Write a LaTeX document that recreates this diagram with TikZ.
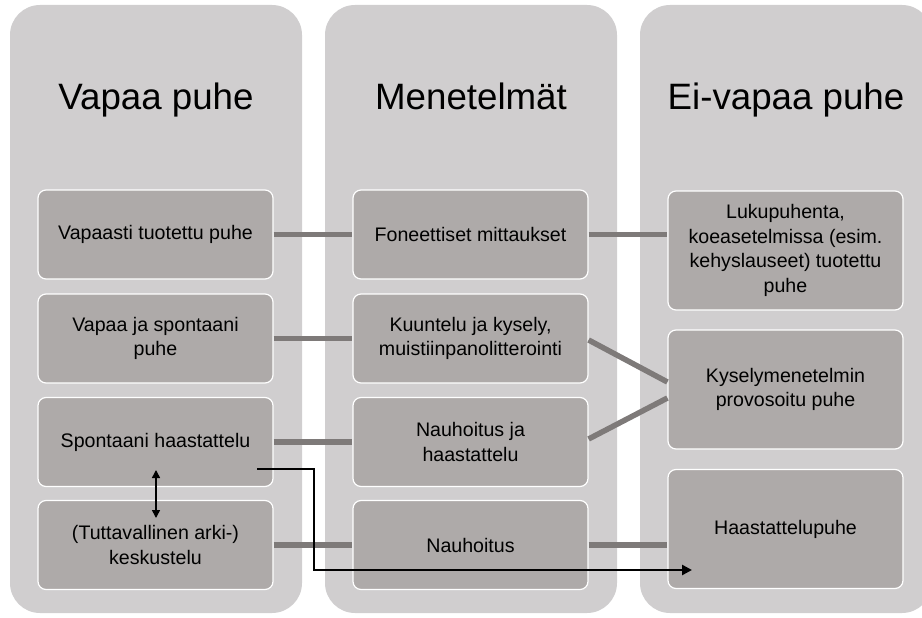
\documentclass[tikz,border=0pt]{standalone}
\usepackage{fontspec}
\setmainfont{Liberation Sans}
\usetikzlibrary{arrows.meta}
\definecolor{panelgray}{HTML}{D0CECF}
\definecolor{boxgray}{HTML}{AEAAA9}
\definecolor{linkgray}{HTML}{7E7A79}
\tikzset{
  panel/.style={fill=panelgray, rounded corners=30pt},
  title/.style={font=\fontsize{36.7}{44}\selectfont, anchor=base},
  bx/.style={draw=white, line width=1.2pt, fill=boxgray, rounded corners=8pt,
    minimum width=235pt, minimum height=89pt, align=center, inner sep=2pt,
    font=\fontsize{19.6}{24.5}\selectfont},
  tallbx/.style={bx, minimum height=119pt},
  link/.style={draw=linkgray, line width=5.5pt},
  flow/.style={draw=black, line width=2.6pt, -{Triangle[length=10pt,width=10pt]}},
  twoway/.style={draw=black, line width=1.5pt, {Triangle[length=8pt,width=8pt]}-{Triangle[length=8pt,width=8pt]}}
}
\begin{document}
\begin{tikzpicture}[x=1pt,y=-1pt]
\useasboundingbox (0,0) rectangle (922,618);
\clip (0,0) rectangle (922,618);
% panels
\fill[panel] (10,5) rectangle (302,613);
\fill[panel] (325,5) rectangle (617,613);
\fill[panel] (640,5) rectangle (932,613);
% titles
\node[title] (t1) at (156,110) {Vapaa puhe};
\node[title] (t2) at (471,110) {Menetelmät};
\node[title] (t3) at (786,110) {Ei-vapaa puhe};
% column 1
\node[bx] (a1) at (155.5,234.5) {Vapaasti tuotettu puhe};
\node[bx] (a2) at (155.5,338.5) {Vapaa ja spontaani\\puhe};
\node[bx] (a3) at (155.5,442) {Spontaani haastattelu};
\node[bx] (a4) at (155.5,545) {(Tuttavallinen arki-)\\keskustelu};
% column 2
\node[bx] (b1) at (470.5,234.5) {Foneettiset mittaukset};
\node[bx] (b2) at (470.5,338.5) {Kuuntelu ja kysely,\\muistiinpanolitterointi};
\node[bx] (b3) at (470.5,442) {Nauhoitus ja\\haastattelu};
\node[bx] (b4) at (470.5,545) {Nauhoitus};
% column 3
\node[tallbx] (c1) at (785.5,250.5) {Lukupuhenta,\\koeasetelmissa (esim.\\kehyslauseet) tuotettu\\puhe};
\node[tallbx] (c2) at (785.5,389.5) {Kyselymenetelmin\\provosoitu puhe};
\node[tallbx] (c3) at (785.5,529) {Haastattelupuhe};
% gray links
\draw[link] (a1.east) -- (b1.west);
\draw[link] (a2.east) -- (b2.west);
\draw[link] (a3.east) -- (b3.west);
\draw[link] (a4.east) -- (b4.west);
\draw[link] (b1.east) -- ([yshift=16pt]c1.west);
\draw[link] ([yshift=-1.5pt]b2.east) -- ([yshift=7.5pt]c2.west);
\draw[link] ([yshift=3pt]b3.east) -- ([yshift=-8.5pt]c2.west);
\draw[link] (b4.east) -- ([yshift=-16pt]c3.west);
% black arrows
\coordinate (fs) at (257,469);
\coordinate (fe) at (692,570);
\draw[flow] (fs) -- ++(57,0) |- (fe);
\coordinate (da) at (156,470);
\coordinate (db) at (156,518);
\draw[twoway] (da) -- (db);
\end{tikzpicture}
\end{document}
